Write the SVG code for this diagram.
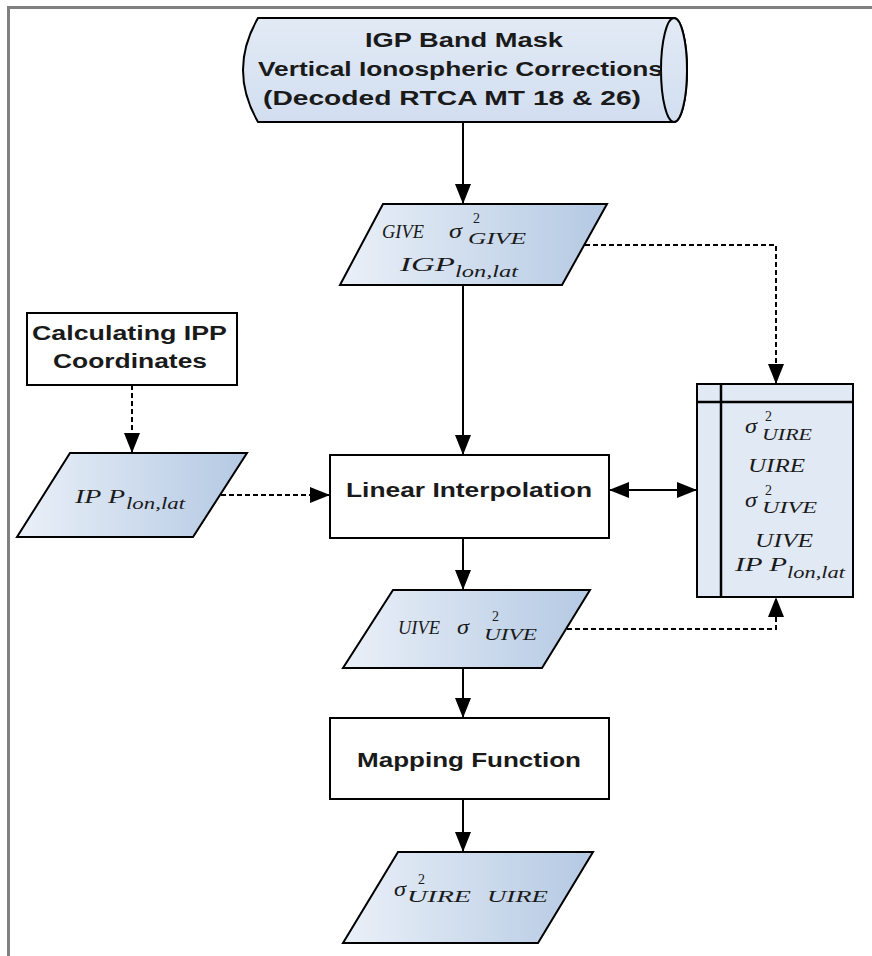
<svg xmlns="http://www.w3.org/2000/svg" width="872" height="956" viewBox="0 0 872 956">
  <defs>
    <linearGradient id="para" x1="0" y1="0" x2="1" y2="0">
      <stop offset="0" stop-color="#eaf0f8"/>
      <stop offset="1" stop-color="#b4c9e3"/>
    </linearGradient>
    <linearGradient id="tube" x1="0" y1="0" x2="0" y2="1">
      <stop offset="0" stop-color="#e2eaf5"/>
      <stop offset="1" stop-color="#d2def0"/>
    </linearGradient>
    <marker id="ah" viewBox="0 0 20 16" refX="20" refY="8" markerWidth="20" markerHeight="16" markerUnits="userSpaceOnUse" orient="auto-start-reverse">
      <path d="M0,0 L20,8 L0,16 z" fill="#000"/>
    </marker>
  </defs>
  <style>
    .frame { fill: none; stroke: #808080; stroke-width: 3; }
    .box { fill: #ffffff; stroke: #000; stroke-width: 2; }
    .para { fill: url(#para); stroke: #000; stroke-width: 2; }
    .store { fill: #e1e9f5; stroke: #000; stroke-width: 2; }
    .bold { font-family: "Liberation Sans", Arial, sans-serif; font-weight: bold; font-size: 20px; fill: #1a1a1a; }
    .m { font-family: "Liberation Serif", "Times New Roman", serif; font-style: italic; font-size: 18px; fill: #1a1a1a; }
    .s { font-size: 17px; }
    .sig { font-size: 22px; }
    .sup { font-family: "Liberation Serif", "Times New Roman", serif; font-size: 14px; fill: #1a1a1a; }
    .solid { fill: none; stroke: #000; stroke-width: 2; }
    .dash { fill: none; stroke: #000; stroke-width: 2; stroke-dasharray: 5 3; }
  </style>

  <!-- outer frame (top and left edges) -->
  <path class="frame" d="M8.5,956 L8.5,7.5 L872,7.5"/>

  <!-- source tube -->
  <g id="source">
    <path d="M258,18 L674,18 A13,52 0 0 1 674,122 L258,122 Q228,70 258,18 z" fill="url(#tube)" stroke="#000" stroke-width="2"/>
    <ellipse cx="674" cy="70" rx="13" ry="52" fill="url(#tube)" stroke="#000" stroke-width="2"/>
    <text class="bold" x="365" y="47" textLength="198" lengthAdjust="spacingAndGlyphs">IGP Band Mask</text>
    <text class="bold" x="258" y="76" textLength="405" lengthAdjust="spacingAndGlyphs">Vertical Ionospheric Corrections</text>
    <text class="bold" x="263" y="105" textLength="378" lengthAdjust="spacingAndGlyphs">(Decoded RTCA MT 18 &amp; 26)</text>
  </g>

  <!-- GIVE data -->
  <g id="give">
    <polygon class="para" points="383,204 607,204 562,285 340,285"/>
    <text class="m" x="382" y="238" font-size="16" textLength="42" lengthAdjust="spacingAndGlyphs">GIVE</text>
    <text class="m sig" x="449" y="238" textLength="13" lengthAdjust="spacingAndGlyphs">σ</text>
    <text class="sup" x="473" y="223">2</text>
    <text class="m s" x="468" y="244" textLength="58" lengthAdjust="spacingAndGlyphs">GIVE</text>
    <text class="m" x="400" y="271" font-size="20" textLength="55" lengthAdjust="spacingAndGlyphs">IGP</text>
    <text class="m s" x="455" y="277" textLength="63" lengthAdjust="spacingAndGlyphs">lon,lat</text>
  </g>

  <!-- IPP coordinate computation -->
  <g id="calc-ipp">
    <rect class="box" x="27" y="313" width="210" height="72"/>
    <text class="bold" x="32" y="340" textLength="195" lengthAdjust="spacingAndGlyphs">Calculating IPP</text>
    <text class="bold" x="53" y="368" textLength="154" lengthAdjust="spacingAndGlyphs">Coordinates</text>
  </g>

  <!-- IPP data -->
  <g id="ipp">
    <polygon class="para" points="70,453 247,453 193,537 17,537"/>
    <text class="m" x="75" y="503" textLength="50" lengthAdjust="spacingAndGlyphs">IP P</text>
    <text class="m s" x="126" y="509" textLength="59" lengthAdjust="spacingAndGlyphs">lon,lat</text>
  </g>

  <!-- interpolation step -->
  <g id="interp">
    <rect class="box" x="330" y="455" width="279" height="83"/>
    <text class="bold" x="346" y="497" textLength="246" lengthAdjust="spacingAndGlyphs">Linear Interpolation</text>
  </g>

  <!-- stored results -->
  <g id="store">
    <rect class="store" x="697" y="384" width="156" height="213"/>
    <line x1="721" y1="384" x2="721" y2="597" stroke="#000" stroke-width="2.5"/>
    <line x1="697" y1="402" x2="853" y2="402" stroke="#000" stroke-width="2.5"/>
    <text class="m sig" x="745" y="433" textLength="12" lengthAdjust="spacingAndGlyphs">σ</text>
    <text class="sup" x="765" y="421">2</text>
    <text class="m s" x="762" y="440" textLength="50" lengthAdjust="spacingAndGlyphs">UIRE</text>
    <text class="m" x="748" y="472" textLength="57" lengthAdjust="spacingAndGlyphs">UIRE</text>
    <text class="m sig" x="745" y="507" textLength="12" lengthAdjust="spacingAndGlyphs">σ</text>
    <text class="sup" x="765" y="495">2</text>
    <text class="m s" x="762" y="513" textLength="55" lengthAdjust="spacingAndGlyphs">UIVE</text>
    <text class="m" x="755" y="547" textLength="58" lengthAdjust="spacingAndGlyphs">UIVE</text>
    <text class="m" x="735" y="571" textLength="52" lengthAdjust="spacingAndGlyphs">IP P</text>
    <text class="m s" x="787" y="578" textLength="58" lengthAdjust="spacingAndGlyphs">lon,lat</text>
  </g>

  <!-- UIVE data -->
  <g id="uive">
    <polygon class="para" points="393,590 590,590 542,668 343,668"/>
    <text class="m" x="398" y="634" font-size="17" textLength="42" lengthAdjust="spacingAndGlyphs">UIVE</text>
    <text class="m sig" x="457" y="634" textLength="12" lengthAdjust="spacingAndGlyphs">σ</text>
    <text class="sup" x="492" y="621">2</text>
    <text class="m s" x="484" y="640" textLength="53" lengthAdjust="spacingAndGlyphs">UIVE</text>
  </g>

  <!-- mapping step -->
  <g id="mapping">
    <rect class="box" x="330" y="718" width="279" height="81"/>
    <text class="bold" x="357" y="767" textLength="224" lengthAdjust="spacingAndGlyphs">Mapping Function</text>
  </g>

  <!-- final output -->
  <g id="uire">
    <polygon class="para" points="398,852 593,852 538,943 343,943"/>
    <text class="m sig" x="394" y="896" textLength="12" lengthAdjust="spacingAndGlyphs">σ</text>
    <text class="sup" x="418" y="884">2</text>
    <text class="m s" x="407" y="902" textLength="64" lengthAdjust="spacingAndGlyphs">UIRE</text>
    <text class="m s" x="487" y="902" textLength="61" lengthAdjust="spacingAndGlyphs">UIRE</text>
  </g>

  <!-- connectors -->
  <g id="connectors">
    <line class="solid" x1="463" y1="122" x2="463" y2="204" marker-end="url(#ah)"/>
    <line class="solid" x1="463" y1="285" x2="463" y2="455" marker-end="url(#ah)"/>
    <line class="solid" x1="463" y1="538" x2="463" y2="590" marker-end="url(#ah)"/>
    <line class="solid" x1="463" y1="668" x2="463" y2="718" marker-end="url(#ah)"/>
    <line class="solid" x1="463" y1="799" x2="463" y2="852" marker-end="url(#ah)"/>
    <path class="dash" d="M585,245 L776,245 L776,384" marker-end="url(#ah)"/>
    <line class="dash" x1="132" y1="385" x2="132" y2="453" marker-end="url(#ah)"/>
    <line class="dash" x1="221" y1="495" x2="330" y2="495" marker-end="url(#ah)"/>
    <line class="solid" x1="609" y1="490" x2="697" y2="490" marker-start="url(#ah)" marker-end="url(#ah)"/>
    <path class="dash" d="M567,629 L776,629 L776,597" marker-end="url(#ah)"/>
  </g>
</svg>
